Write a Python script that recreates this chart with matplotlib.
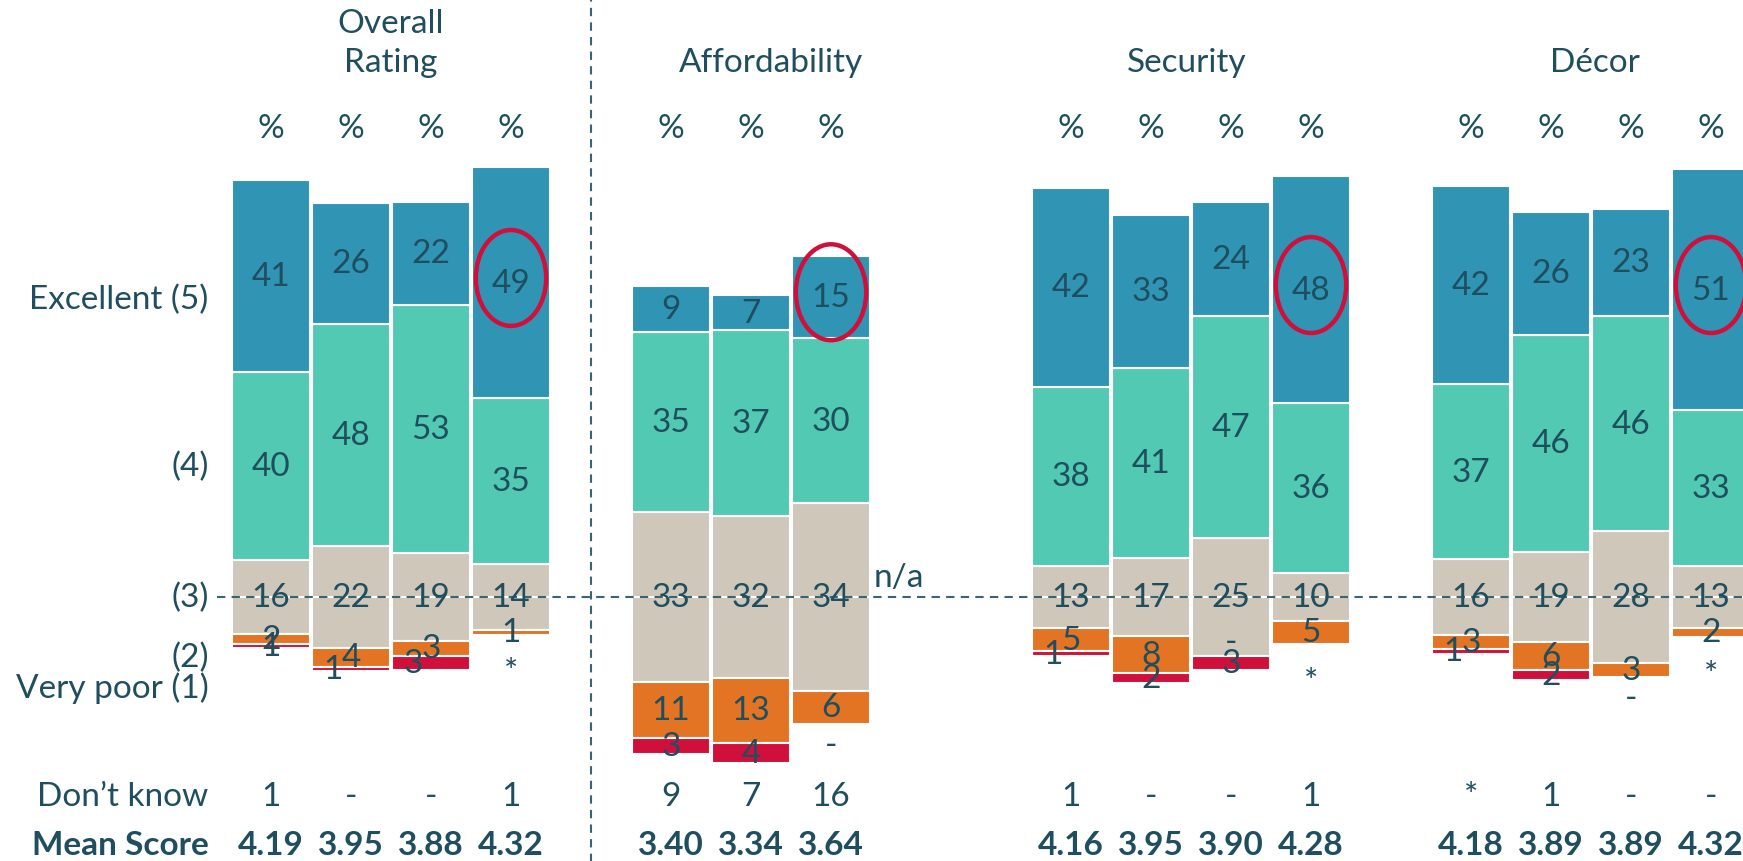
import matplotlib.pyplot as plt
from matplotlib.patches import Ellipse

# ---------------- data (as printed on the chart) ----------------
group_titles = ["Overall\nRating", "Affordability", "Security", "Décor"]
row_labels = ["Excellent (5)", "(4)", "(3)", "(2)", "Very poor (1)"]

overall_excellent = ["41", "26", "22", "49"]
overall_good = ["40", "48", "53", "35"]
overall_neutral = ["16", "22", "19", "14"]
overall_poor = ["2", "4", "3", "1"]
overall_very_poor = ["1", "1", "3", "*"]
overall_dont_know = ["1", "-", "-", "1"]
overall_mean = ["4.19", "3.95", "3.88", "4.32"]

afford_excellent = ["9", "7", "15"]
afford_good = ["35", "37", "30"]
afford_neutral = ["33", "32", "34"]
afford_poor = ["11", "13", "6"]
afford_very_poor = ["3", "4", "-"]
afford_dont_know = ["9", "7", "16"]
afford_mean = ["3.40", "3.34", "3.64"]

security_excellent = ["42", "33", "24", "48"]
security_good = ["38", "41", "47", "36"]
security_neutral = ["13", "17", "25", "10"]
security_poor = ["5", "8", "-", "5"]
security_very_poor = ["1", "2", "3", "*"]
security_dont_know = ["1", "-", "-", "1"]
security_mean = ["4.16", "3.95", "3.90", "4.28"]

decor_excellent = ["42", "26", "23", "51"]
decor_good = ["37", "46", "46", "33"]
decor_neutral = ["16", "19", "28", "13"]
decor_poor = ["3", "6", "3", "2"]
decor_very_poor = ["1", "2", "-", "*"]
decor_dont_know = ["*", "1", "-", "-"]
decor_mean = ["4.18", "3.89", "3.89", "4.32"]

groups = [
    (overall_excellent, overall_good, overall_neutral, overall_poor, overall_very_poor, overall_dont_know, overall_mean),
    (afford_excellent, afford_good, afford_neutral, afford_poor, afford_very_poor, afford_dont_know, afford_mean),
    (security_excellent, security_good, security_neutral, security_poor, security_very_poor, security_dont_know, security_mean),
    (decor_excellent, decor_good, decor_neutral, decor_poor, decor_very_poor, decor_dont_know, decor_mean),
]

# ---------------- style / layout ----------------
C_EXC = "#3094B4"
C_GOOD = "#52C9B3"
C_NEU = "#CFC7BA"
C_POOR = "#E27424"
C_VPOOR = "#D0103A"
C_TEXT = "#1F4E5F"
FS = 24

plt.rcParams["font.family"] = ["Lato", "DejaVu Sans"]

group_start = [0, 5, 10, 15]
title_x = [1.5, 6.25, 11.45, 16.55]
BAR_W = 0.975


def num(s):
    return float(s) if s.replace(".", "").isdigit() else 0.0


fig = plt.figure(figsize=(17.43, 8.62), dpi=100)
ax = fig.add_axes([0, 0, 1, 1])
ax.set_xlim(-271 / 80, (1743 - 271) / 80)
ax.set_ylim(-(862 - 598) / 4.68, 598 / 4.68)
ax.axis("off")


def label(x, y, s, **kw):
    ax.text(x, y, s, ha="center", va="center", fontsize=FS, color=C_TEXT, zorder=6, **kw)


for g, (exc, good, neu, poor, vpoor, dk, mean) in enumerate(groups):
    for i in range(len(exc)):
        x = group_start[g] + i
        vals = [num(exc[i]), num(good[i]), num(neu[i]), num(poor[i]), num(vpoor[i])]
        scale = 100.0 / sum(vals)
        e, gd, n, p, vp = [v * scale for v in vals]

        segs = [
            (-n / 2, n, C_NEU),
            (n / 2, gd, C_GOOD),
            (n / 2 + gd, e, C_EXC),
            (-n / 2 - p, p, C_POOR),
            (-n / 2 - p - vp, vp, C_VPOOR),
        ]
        for b, h, c in segs:
            if h > 0:
                ax.bar(x, h, bottom=b, width=BAR_W, color=c, edgecolor="white", linewidth=1.5, zorder=2)
        # segment labels
        label(x, 0, neu[i])
        label(x, n / 2 + gd / 2, good[i])
        label(x, n / 2 + gd + e / 2, exc[i])
        if p > 0:
            label(x, -n / 2 - p / 2, poor[i])
        else:
            label(x, -n / 2 + 3, poor[i])
        if vp > 0:
            dx = -0.22 if 4 <= vals[3] + vals[4] <= 7 else 0
            label(x + dx, -n / 2 - p - vp / 2, vpoor[i])
        else:
            drop = 8.0 if vpoor[i] == "*" else 4.5
            label(x, -n / 2 - p - drop, vpoor[i])

        # percent header, don't know, mean score
        label(x, 100.3, "%")
        label(x, -42.5, dk[i])
        label(x, -52.8, mean[i], fontweight="bold")

        # highlight last bar of each group
        if i == len(exc) - 1:
            ax.add_patch(Ellipse((x, n / 2 + gd + e / 2 + 1), 0.88, 20.5, fill=False,
                                 edgecolor=C_VPOOR, linewidth=3.2, zorder=7))

    # titles
    lines = group_titles[g].split("\n")
    if len(lines) == 2:
        label(title_x[g], 122.6, lines[0])
        label(title_x[g], 114.3, lines[1])
    else:
        label(title_x[g], 114.3, lines[0])

# n/a slot for affordability
label(7.85, 4.3, "n/a")

# row labels on the left
row_y = [63.7, 28.0, 0.0, -12.8, -19.2]
for s, y in zip(row_labels, row_y):
    ax.text(-0.78, y, s, ha="right", va="center", fontsize=FS, color=C_TEXT)
ax.text(-0.78, -42.5, "Don\u2019t know", ha="right", va="center", fontsize=FS, color=C_TEXT)
ax.text(-0.78, -52.8, "Mean Score", ha="right", va="center", fontsize=FS, color=C_TEXT, fontweight="bold")

# reference lines
x_right = (1743 - 271) / 80
ax.plot([-0.68, x_right], [0, 0], color="white", linewidth=1.5, zorder=3)
ax.plot([-0.68, x_right], [0, 0], color="#3A6472", linewidth=1.5, dashes=(4, 3), zorder=4)
ax.plot([4, 4], [-60, 130], color="#3A6472", linewidth=1.5, dashes=(4, 3), zorder=4)

fig.savefig("out.png", dpi=100)
